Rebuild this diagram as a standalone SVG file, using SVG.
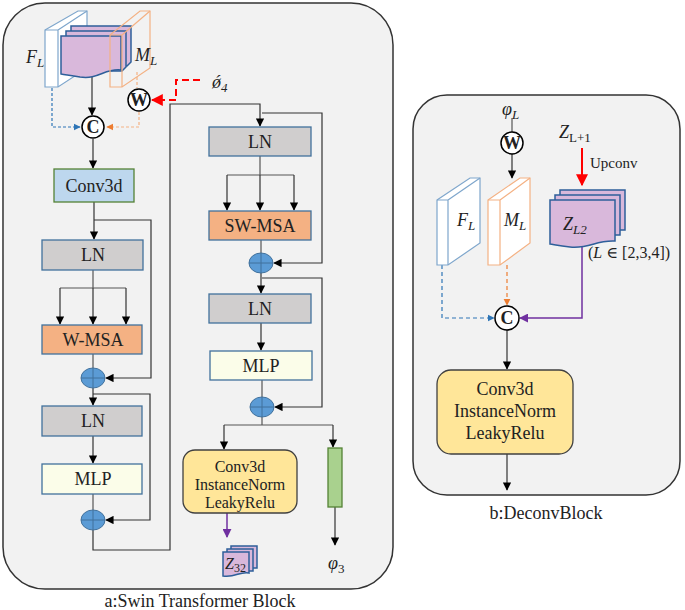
<svg xmlns="http://www.w3.org/2000/svg" width="685" height="610" viewBox="0 0 685 610" font-family="'Liberation Serif','Times New Roman','DejaVu Serif',serif">
<defs>
<marker id="ah" viewBox="0 0 10 10" refX="9" refY="5" markerWidth="7" markerHeight="7" orient="auto"><path d="M0,0L10,5L0,10z" fill="#000"/></marker>
<marker id="ahr" viewBox="0 0 10 10" refX="9" refY="5" markerWidth="6" markerHeight="6" orient="auto"><path d="M0,0L10,5L0,10z" fill="#f00"/></marker>
<marker id="ahb" viewBox="0 0 10 10" refX="9" refY="5" markerWidth="6" markerHeight="6" orient="auto"><path d="M0,0L10,5L0,10z" fill="#2e75b6"/></marker>
<marker id="aho" viewBox="0 0 10 10" refX="9" refY="5" markerWidth="6" markerHeight="6" orient="auto"><path d="M0,0L10,5L0,10z" fill="#ed7d31"/></marker>
<marker id="ahp" viewBox="0 0 10 10" refX="9" refY="5" markerWidth="6" markerHeight="6" orient="auto"><path d="M0,0L10,5L0,10z" fill="#7030a0"/></marker>
</defs>
<style>
text{font-family:'Liberation Serif','Times New Roman','DejaVu Serif',serif;fill:#222}
.t{font-size:18px;text-anchor:middle}
.m{font-style:italic}
.ln{fill:#d0cece;stroke:#41719c;stroke-width:1.3}
.msa{fill:#f4b183;stroke:#41719c;stroke-width:1.3}
.mlp{fill:#fbfde9;stroke:#41719c;stroke-width:1.3}
.plus{fill:#5b9bd5;stroke:#41719c;stroke-width:1}
.cv{fill:#ffe699;stroke:#404040;stroke-width:1.3}
.c{stroke:#555;stroke-width:1.2;fill:none}
.a{stroke:#333;stroke-width:1.2;fill:none;marker-end:url(#ah)}
.circ{fill:#fff;stroke:#000;stroke-width:1.5}
.ct{font-size:18px;font-weight:bold;text-anchor:middle}
.slabB{fill:#fff;stroke:#7ea6cc;stroke-width:1.2}
.slabO{fill:#fff;stroke:#f4b183;stroke-width:1.2}
.stk{fill:#d9b8db;stroke:#2e5f9a;stroke-width:1.5}
</style>
<rect x="3" y="3" width="390" height="586" rx="42" fill="#f2f2f2" stroke="#333" stroke-width="1.5"/>
<rect x="413" y="95" width="267" height="400" rx="34" fill="#f2f2f2" stroke="#333" stroke-width="1.5"/>
<text x="200" y="607" class="t">a:Swin Transformer Block</text>
<text x="546" y="519" class="t">b:DeconvBlock</text>

<g id="connectors">
<path d="M52,88V127H80" stroke="#2e75b6" stroke-width="1.2" stroke-dasharray="3,2" fill="none" marker-end="url(#ahb)"/>
<path d="M137,72V88" stroke="#f4b183" stroke-width="1.2" stroke-dasharray="3,2" fill="none"/>
<path d="M139,112V127H107" stroke="#f4b183" stroke-width="1.2" stroke-dasharray="3,2" fill="none" marker-end="url(#aho)"/>
<path d="M200,80H176V100H152" stroke="#f00" stroke-width="2" stroke-dasharray="7,4" fill="none" marker-end="url(#ahr)"/>
<path d="M92,72V115" class="a"/>
<path d="M93,139V168" class="a"/>
<path d="M94,202V239" class="a"/>
<path d="M94,220H151V378H106" class="a"/>
<path d="M93,270V288" class="c"/>
<path d="M60,288H126" class="c"/>
<path d="M60,288V324" class="a"/>
<path d="M93,288V324" class="a"/>
<path d="M126,288V324" class="a"/>
<path d="M93,354V368" class="c"/>
<path d="M93,388V405" class="a"/>
<path d="M93,394H150V520H106" class="a"/>
<path d="M93,436V463" class="a"/>
<path d="M93,494V510" class="c"/>
<path d="M93,530V550H170V104H260V126" class="a"/>
<path d="M262,113H322V263H274" class="a"/>
<path d="M260,156V175" class="c"/>
<path d="M227,175H294" class="c"/>
<path d="M227,175V210" class="a"/>
<path d="M260,175V210" class="a"/>
<path d="M294,175V210" class="a"/>
<path d="M261,240V253" class="c"/>
<path d="M261,273V293" class="a"/>
<path d="M262,278H322V407H275" class="a"/>
<path d="M261,323V350" class="a"/>
<path d="M262,380V397" class="c"/>
<path d="M262,417V425" class="c"/>
<path d="M224,425H333" class="c"/>
<path d="M224,425V449" class="a"/>
<path d="M333,425V447" class="a"/>
<path d="M335,507V545" class="a"/>
<path d="M227,513V537" stroke="#7030a0" stroke-width="1.5" fill="none" marker-end="url(#ahp)"/>
<path d="M512,118V132" class="c"/>
<path d="M512,154V178" class="a"/>
<path d="M582,148V185" stroke="#f00" stroke-width="2" fill="none" marker-end="url(#ahr)"/>
<path d="M442,265V318H494" stroke="#2e75b6" stroke-width="1.2" stroke-dasharray="4,3" fill="none" marker-end="url(#ahb)"/>
<path d="M507,265V305" stroke="#ed7d31" stroke-width="1.2" stroke-dasharray="4,3" fill="none" marker-end="url(#aho)"/>
<path d="M582,245V318H520" stroke="#7030a0" stroke-width="1.5" fill="none" marker-end="url(#ahp)"/>
<path d="M507,330V369" class="a"/>
<path d="M507,454V490" class="a"/>
</g>

<g id="input-stack">
<path d="M45,30L78,11H87V68L58,87H45Z" class="slabB"/><path d="M58,30L87,11M58,30V87M45,30H58" class="slabB"/>
<path d="M71,26H131V62L127,66H71Z" class="stk"/>
<path d="M66,31H126V67L122,71H66Z" class="stk"/>
<path d="M61,36H121V70C105,68 98,80 80,77C70,75 66,75 61,74Z" class="stk"/>
<path d="M110,35L140,11H150V68L122,87H110Z" class="slabO" fill-opacity="0"/><path d="M122,35L150,11M122,35V87M110,35H122" class="slabO"/>
<text x="26" y="63" font-size="18" class="m">F<tspan font-size="13" dy="4">L</tspan></text>
<text x="135" y="61" font-size="18" class="m">M<tspan font-size="13" dy="4">L</tspan></text>
<text x="212" y="88" font-size="18" class="m">ǿ<tspan font-size="13" dy="4">4</tspan></text>
</g>
<g id="concat1"><circle cx="93" cy="127" r="11" class="circ"/><text x="93" y="133" class="ct">C</text></g>
<g id="weight1"><circle cx="139" cy="100" r="11" class="circ"/><text x="139" y="106" class="ct">W</text></g>
<g id="conv3d"><rect x="54" y="169" width="80" height="33" fill="#bdd7ee" stroke="#548235" stroke-width="1.3"/><text x="94" y="192" class="t">Conv3d</text></g>
<g id="ln1"><rect x="42" y="240" width="101" height="30" class="ln"/><text x="93" y="261" class="t">LN</text></g>
<g id="wmsa"><rect x="42" y="325" width="100" height="29" class="msa"/><text x="93" y="346" class="t">W-MSA</text></g>
<g id="add1"><ellipse cx="93" cy="378" rx="12" ry="10" class="plus"/><path d="M81,378H105M93,368V388" stroke="#41719c"/></g>
<g id="ln2"><rect x="42" y="406" width="100" height="30" class="ln"/><text x="93" y="427" class="t">LN</text></g>
<g id="mlp1"><rect x="42" y="464" width="100" height="30" class="mlp"/><text x="93" y="485" class="t">MLP</text></g>
<g id="add2"><ellipse cx="93" cy="520" rx="12" ry="10" class="plus"/><path d="M81,520H105M93,510V530" stroke="#41719c"/></g>
<g id="ln3"><rect x="209" y="127" width="102" height="29" class="ln"/><text x="260" y="148" class="t">LN</text></g>
<g id="swmsa"><rect x="209" y="211" width="102" height="29" class="msa"/><text x="260" y="232" class="t">SW-MSA</text></g>
<g id="add3"><ellipse cx="261" cy="263" rx="12" ry="10" class="plus"/><path d="M249,263H273M261,253V273" stroke="#41719c"/></g>
<g id="ln4"><rect x="209" y="294" width="102" height="29" class="ln"/><text x="260" y="315" class="t">LN</text></g>
<g id="mlp2"><rect x="210" y="351" width="102" height="29" class="mlp"/><text x="261" y="372" class="t">MLP</text></g>
<g id="add4"><ellipse cx="262" cy="407" rx="12" ry="10" class="plus"/><path d="M250,407H274M262,397V417" stroke="#41719c"/></g>
<g id="convblock1"><rect x="183" y="450" width="114" height="63" rx="12" class="cv"/>
<text x="240" y="472" font-size="16" text-anchor="middle">Conv3d</text><text x="240" y="490" font-size="16" text-anchor="middle">InstanceNorm</text><text x="240" y="508" font-size="16" text-anchor="middle">LeakyRelu</text></g>
<g id="bar"><rect x="328" y="448" width="14" height="59" fill="#a9d18e" stroke="#548235" stroke-width="1.3"/>
<text x="328" y="569" font-size="18" class="m">φ<tspan font-size="13" dy="4" font-style="normal">3</tspan></text></g>
<g id="z32">
<path d="M231,546H257V568H231Z" class="stk" stroke-width="1"/>
<path d="M227,549H253V571H227Z" class="stk" stroke-width="1"/>
<path d="M223,552H249V573C240,571 235,578 223,576Z" class="stk" stroke-width="1"/>
<text x="225" y="569" font-size="16" class="m">Z<tspan font-size="12" dy="3" font-style="normal">32</tspan></text></g>

<g id="deconv-inputs">
<path d="M437,200L470,178H480V243L448,265H437Z" class="slabB"/><path d="M448,200L480,178M448,200V265M437,200H448" class="slabB"/>
<path d="M488,200L520,178H530V243L500,265H488Z" class="slabO"/><path d="M500,200L530,178M500,200V265M488,200H500" class="slabO"/>
<text x="457" y="226" font-size="18" class="m">F<tspan font-size="13" dy="4">L</tspan></text>
<text x="504" y="226" font-size="18" class="m">M<tspan font-size="13" dy="4">L</tspan></text>
<path d="M560,190H625V230H560Z" class="stk"/>
<path d="M555,195H620V235H555Z" class="stk"/>
<path d="M550,200H615V241C595,240 590,249 570,247C560,246 556,245 550,244Z" class="stk"/>
<text x="563" y="230" font-size="18" class="m">Z<tspan font-size="13" dy="4">L2</tspan></text>
<text x="588" y="258" font-size="16">(<tspan class="m">L</tspan> ∈ [2,3,4])</text>
<text x="502" y="115" font-size="18" class="m">φ<tspan font-size="13" dy="4">L</tspan></text>
<text x="559" y="138" font-size="18" class="m">Z<tspan font-size="13" dy="4" font-style="normal">L+1</tspan></text>
<text x="590" y="168" font-size="15">Upconv</text>
</g>
<g id="weight2"><circle cx="512" cy="143" r="11" class="circ"/><text x="512" y="149" class="ct">W</text></g>
<g id="concat2"><circle cx="507" cy="318" r="12" class="circ"/><text x="507" y="324" class="ct">C</text></g>
<g id="convblock2"><rect x="437" y="370" width="136" height="84" rx="14" class="cv"/>
<text x="505" y="395" class="t">Conv3d</text><text x="505" y="417" class="t">InstanceNorm</text><text x="505" y="439" class="t">LeakyRelu</text></g>
</svg>
